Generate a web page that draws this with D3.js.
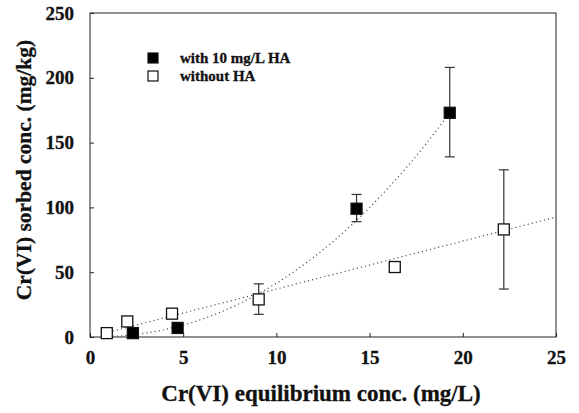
<!DOCTYPE html>
<html>
<head>
<meta charset="utf-8">
<script src="https://cdn.jsdelivr.net/npm/d3@7"></script>
<style>
  body { margin: 0; background: #fff; }
  svg text { font-family: "Liberation Serif", "DejaVu Serif", serif; font-weight: bold; fill: #111; stroke: #111; stroke-width: 0.3px; }
</style>
</head>
<body>
<div id="chart"></div>
<script>
(function() {
    // with 10 mg/L HA
    const withX = [2.3, 4.7, 14.3, 19.3];
    const withY = [3, 7, 99, 173];
    const withLo = [null, null, 89, 139];
    const withHi = [null, null, 110, 208];
    // without HA
    const woX = [0.9, 2.0, 4.4, 9.05, 16.35, 22.2];
    const woY = [3, 12, 18, 29, 54, 83];
    const woLo = [null, null, null, 17.5, null, 37];
    const woHi = [null, null, null, 41, null, 129];
    // fitted trend lines
    const fitWithX = [1, 2, 4, 6, 8, 10, 12, 14, 16, 18, 19.3];
    const fitWithY = [0.3, 1.3, 5.7, 13.7, 25.6, 41.5, 61.6, 86, 115, 148.5, 173];
    const fitWoX = [1, 25];
    const fitWoY = [3.7, 92.5];
    const xTicks = [0, 5, 10, 15, 20, 25];
    const yTicks = [0, 50, 100, 150, 200, 250];

    const w = 579, h = 413;
    const margin = { left: 90, right: 23, top: 13, bottom: 76 };
    const svg = d3.select('#chart').append('svg').attr('width', w).attr('height', h);

    const x = d3.scaleLinear().domain([0, 25]).range([margin.left, w - margin.right]);
    const y = d3.scaleLinear().domain([0, 250]).range([h - margin.bottom, margin.top]);

    // frame
    svg.append('rect').attr('x', x(0)).attr('y', y(250))
        .attr('width', x(25) - x(0)).attr('height', y(0) - y(250))
        .attr('fill', 'none').attr('stroke', '#222').attr('stroke-width', 1);

    const xAxis = svg.append('g').attr('transform', `translate(0, ${y(0)})`)
        .call(d3.axisBottom(x).tickValues(xTicks).tickSize(-4).tickPadding(14).tickFormat(d3.format('d')));
    const yAxis = svg.append('g').attr('transform', `translate(${x(0)}, 0)`)
        .call(d3.axisLeft(y).tickValues(yTicks).tickSize(-4).tickPadding(16).tickFormat(d3.format('d')));
    [xAxis, yAxis].forEach(a => {
        a.select('.domain').remove();
        a.selectAll('line').attr('stroke', '#222');
        a.selectAll('text').style('font-size', '19px').style('font-family', '"Liberation Serif", serif')
            .style('font-weight', 'bold').attr('fill', '#111').attr('stroke', '#111').attr('stroke-width', 0.3);
    });

    // titles
    svg.append('text').attr('x', (x(0) + x(25)) / 2 - 2).attr('y', 401).attr('text-anchor', 'middle')
        .style('font-size', '23px').text('Cr(VI) equilibrium conc. (mg/L)');
    svg.append('text').attr('transform', `translate(31, ${(y(0) + y(250)) / 2 - 5}) rotate(-90)`)
        .attr('text-anchor', 'middle').style('font-size', '21.5px').text('Cr(VI) sorbed conc. (mg/kg)');

    // fit lines
    const line = d3.line().x(d => x(d[0])).y(d => y(d[1])).curve(d3.curveMonotoneX);
    [[fitWithX, fitWithY], [fitWoX, fitWoY]].forEach(([fx, fy]) => {
        svg.append('path').datum(fx.map((v, i) => [v, fy[i]]))
            .attr('d', line).attr('fill', 'none').attr('stroke', '#555')
            .attr('stroke-width', 1.2).attr('stroke-dasharray', '1.2,3');
    });

    // error bars + markers
    const sz = 11, cap = 5;
    function drawSeries(xs, ys, lo, hi, fill) {
        const g = svg.append('g');
        xs.forEach((xv, i) => {
            if (lo[i] == null) return;
            const cx = x(xv);
            g.append('line').attr('x1', cx).attr('x2', cx).attr('y1', y(lo[i])).attr('y2', y(hi[i])).attr('stroke', '#333').attr('stroke-width', 1.2);
            [lo[i], hi[i]].forEach(v => {
                g.append('line').attr('x1', cx - cap).attr('x2', cx + cap).attr('y1', y(v)).attr('y2', y(v)).attr('stroke', '#333').attr('stroke-width', 1.2);
            });
        });
        g.selectAll('rect').data(xs.map((v, i) => [v, ys[i]])).enter().append('rect')
            .attr('x', d => x(d[0]) - sz / 2).attr('y', d => y(d[1]) - sz / 2)
            .attr('width', sz).attr('height', sz)
            .attr('fill', fill).attr('stroke', '#111').attr('stroke-width', 1.3);
    }
    drawSeries(woX, woY, woLo, woHi, '#fff');
    drawSeries(withX, withY, withLo, withHi, '#000');

    // legend
    const legend = [{ label: 'with 10 mg/L HA', fill: '#000' }, { label: 'without HA', fill: '#fff' }];
    legend.forEach((d, i) => {
        const ly = 58 + i * 18;
        svg.append('rect').attr('x', 148).attr('y', ly - 5).attr('width', 10).attr('height', 10)
            .attr('fill', d.fill).attr('stroke', '#111').attr('stroke-width', 1.2);
        svg.append('text').attr('x', 180).attr('y', ly + 5).style('font-size', '15px').text(d.label);
    });
})();
</script>
</body>
</html>
